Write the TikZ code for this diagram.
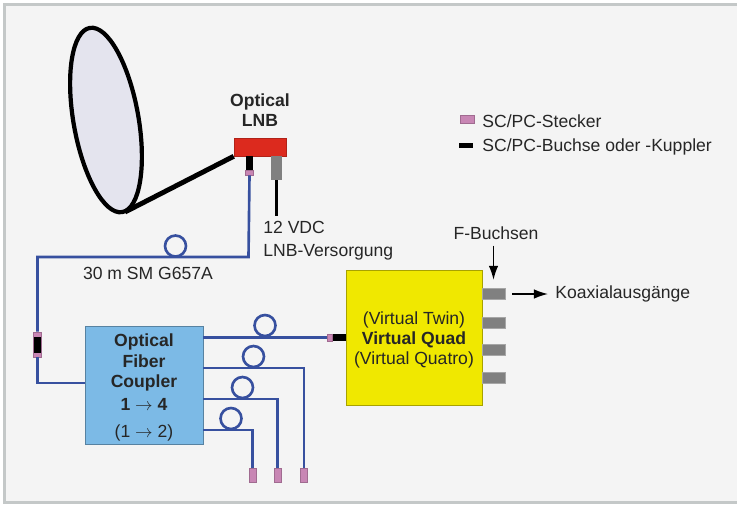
\documentclass[tikz,border=0pt]{standalone}
\usepackage{fontspec}
\usetikzlibrary{arrows.meta}
\setmainfont{Liberation Sans}
\definecolor{framegray}{HTML}{C4C8C8}
\definecolor{panelgray}{HTML}{F4F4F4}
\definecolor{dishgray}{HTML}{E4E4EE}
\definecolor{fiberblue}{HTML}{37509F}
\definecolor{plugpink}{HTML}{C886B4}
\definecolor{lnbred}{HTML}{DC2A1E}
\definecolor{couplerblue}{HTML}{7CBAE6}
\definecolor{quadyellow}{HTML}{F0E800}
\definecolor{socketgray}{HTML}{808080}
\begin{document}
\begin{tikzpicture}[
    x=0.02cm, y=-0.02cm,
    every node/.style={font=\fontsize{10}{11.6}\selectfont, text=black!85},
    block/.style={rectangle, draw, inner sep=0pt, align=center},
    part/.style={rectangle, inner sep=0pt},
    plug/.style={part, fill=plugpink, draw=plugpink!80!black, line width=0.3pt},
    socket/.style={part, fill=black},
    fbuchse/.style={part, fill=socketgray, draw=socketgray!70, line width=0.3pt, minimum width=0.46cm, minimum height=0.22cm},
    fiber/.style={fiberblue, line width=1.5pt},
    fiberloop/.style={circle, draw=fiberblue, line width=1.5pt, inner sep=0pt, minimum size=0.42cm},
    pointer/.style={thick, -{Latex[length=0.28cm, width=0.19cm]}}
  ]
    \useasboundingbox (0,0) rectangle (737,504);
    \fill[panelgray] (4.5,4.5) rectangle (737,502.5);
    \draw[framegray, line width=1.7pt] (737,4.5) -- (4.5,4.5) -- (4.5,502.5) -- (737,502.5);

    % Dish and LNB
    \draw[line width=2.4pt, fill=dishgray] (106,120) ellipse[x radius=32.5, y radius=93.5, rotate=10];
    \node[part, fill=lnbred, draw=lnbred!80!black, line width=0.3pt, minimum width=1.04cm, minimum height=0.36cm] (lnb) at (260,147) {};
    \coordinate (dishfoot) at (125,212);
    \draw[line width=2.8pt] (dishfoot) -- (lnb.south west);
    \node[font=\fontsize{10}{11.6}\selectfont\bfseries, align=center] (lnbtext) at (260,110) {Optical\\LNB};
    \node[socket, minimum width=0.15cm, minimum height=0.28cm] (lnbsocket) at (249.5,163) {};
    \node[plug, minimum width=0.15cm, minimum height=0.1cm] (lnbplug) at (249.5,172.5) {};
    \node[part, fill=socketgray, minimum width=0.22cm, minimum height=0.48cm] (lnbdc) at (276.5,168) {};
    \coordinate (dcend) at (276.5,216);
    \draw[line width=1.3pt] (lnbdc) -- (dcend);
    \node[anchor=north west, align=left, inner sep=0pt] (dctext) at (263,221) {12 VDC\\[1.6pt]LNB-Versorgung};

    % Legend
    \node[plug, minimum width=0.29cm, minimum height=0.15cm] (legplug) at (467.5,119.5) {};
    \node[socket, minimum width=0.27cm, minimum height=0.11cm] (legsocket) at (466,145.5) {};
    \node[anchor=west, inner sep=0pt] (legplugtext) at (482,121) {SC/PC-Stecker};
    \node[anchor=west, inner sep=0pt] (legsockettext) at (482,147) {SC/PC-Buchse oder -Kuppler};

    % Coupler and Quad
    \node[block, draw=couplerblue!70!black, fill=couplerblue, minimum width=2.36cm, minimum height=2.36cm,
      font=\fontsize{10}{11.6}\selectfont\bfseries] (coupler) at (144,385)
      {\rule{0pt}{10pt}Optical\\Fiber\\Coupler\\[1.4pt]1 $\rightarrow$ 4\\[3.6pt]\normalfont (1 $\rightarrow$ 2)};
    \node[block, draw=quadyellow!70!black, fill=quadyellow, minimum width=2.72cm, minimum height=2.7cm] (quad) at (414,337.5)
      {\rule{0pt}{10pt}(Virtual Twin)\\\textbf{Virtual Quad}\\(Virtual Quatro)};

    % Line to the coupler
    \node[plug, minimum width=0.16cm, minimum height=0.5cm] (midplug) at (37.5,344.5) {};
    \node[socket, minimum width=0.16cm, minimum height=0.32cm] (midsocket) at (37.5,345) {};
    \coordinate (bendtop) at (37.5,257);
    \coordinate (bendlnb) at (248.5,257);
    \coordinate (bendbottom) at (37.5,383);
    \draw[fiber] (lnbplug.south) -- (bendlnb) -- (bendtop) -- (midplug.north);
    \draw[fiber] (midplug.south) -- (bendbottom) -- (coupler.west |- bendbottom);
    \node[fiberloop] (mainloop) at (175.5,246) {};
    \node (maintext) at (148,273) {30 m SM G657A};

    % Outputs of the coupler
    \node[socket, minimum width=0.28cm, minimum height=0.14cm] (quadsocket) at (339,337.5) {};
    \node[plug, minimum width=0.1cm, minimum height=0.14cm] (quadplug) at (329.5,337.5) {};
    \draw[fiber] (coupler.east |- quadplug) -- (quadplug.west);
    \node[fiberloop] (loopa) at (265,325.5) {};
    \foreach \y/\lx/\ex/\name in {368/253.5/304/c,399/242.5/277.5/b,430/231/252.5/a} {
      \node[fiberloop] (loop\name) at (\lx,\y-11.5) {};
      \node[plug, minimum width=0.14cm, minimum height=0.28cm] (end\name) at (\ex,475) {};
      \coordinate (bend\name) at (\ex,\y);
      \draw[fiber] (coupler.east |- bend\name) -- (bend\name) -- (end\name.north);
    }

    % F sockets
    \foreach \y/\name in {293.5/a,322.5/b,349.5/c,377.5/d} {
      \node[fbuchse] (fb\name) at (493.5,\y) {};
    }
    \node (ftext) at (496,233) {F-Buchsen};
    \node[anchor=west, inner sep=0pt] (koaxtext) at (555,294) {Koaxialausgänge};
    \coordinate (koaxstart) at (512,294);
    \draw[pointer, shorten >=4.5pt] (ftext.south -| fba) -- (fba.north);
    \draw[pointer, shorten >=4pt] (koaxstart) -- (koaxtext.west);
  \end{tikzpicture}
\end{document}
